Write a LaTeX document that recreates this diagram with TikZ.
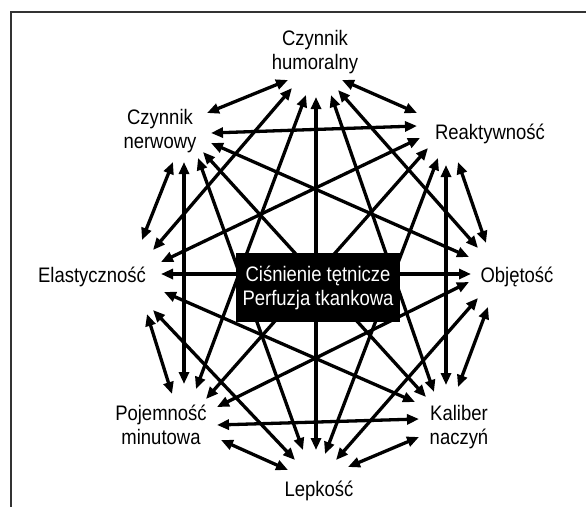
\documentclass[tikz,border=0pt]{standalone}
\usepackage{fontspec}
\setmainfont{Liberation Sans}[FakeStretch=0.88]
\usetikzlibrary{arrows.meta}
\begin{document}
\begin{tikzpicture}[x=1pt,y=-1pt,
  lbl/.style={font=\fontsize{21}{24}\selectfont, align=center, inner sep=0pt},
  biarrow/.style={line width=3.3pt, {Triangle[length=12pt,width=10pt]}-{Triangle[length=12pt,width=10pt]}},
  frameline/.style={line width=1.6pt, black!80},
  centerbox/.style={fill=black, text=white, font=\fontsize{21}{24}\selectfont, align=center,
    minimum width=164pt, minimum height=69pt, inner sep=0pt}]
\useasboundingbox (0,0) rectangle (586,507);
\fill[white] (0,0) rectangle (586,507);
% frame (only top and left edges are visible)
\draw[frameline] (586,12) -- (11,12) -- (11,507);
% outer nodes
\node[lbl] (H) at (315,52) {Czynnik\\humoralny};
\node[lbl] (N) at (160,131) {Czynnik\\nerwowy};
\node[lbl] (R) at (490,134) {Reaktywność};
\node[lbl] (E) at (92,277) {Elastyczność};
\node[lbl] (O) at (517,277) {Objętość};
\node[lbl] (P) at (161,425) {Pojemność\\minutowa};
\node[lbl] (K) at (459,427) {Kaliber\\naczyń};
\node[lbl] (L) at (319,491) {Lepkość};
% connectors (all pairs)
\draw[biarrow] ([shift={(-27,28)}]H.center) -- ([shift={(47,-18)}]N.center);
\draw[biarrow] ([shift={(27,28)}]H.center) -- ([shift={(-73,-21)}]R.center);
\draw[biarrow] ([shift={(-23,36)}]H.center) -- ([shift={(61,-27)}]E.center);
\draw[biarrow] ([shift={(-9,43)}]H.center) -- ([shift={(35,-36)}]P.center);
\draw[biarrow] ([shift={(1,45)}]H.center) -- ([shift={(-3,-41)}]L.center);
\draw[biarrow] ([shift={(16,43)}]H.center) -- ([shift={(-25,-35)}]K.center);
\draw[biarrow] ([shift={(23,38)}]H.center) -- ([shift={(-39,-29)}]O.center);
\draw[biarrow] ([shift={(51,2)}]N.center) -- ([shift={(-73,-8)}]R.center);
\draw[biarrow] ([shift={(51,12)}]N.center) -- ([shift={(-48,-20)}]O.center);
\draw[biarrow] ([shift={(43,21)}]N.center) -- ([shift={(-33,-30)}]K.center);
\draw[biarrow] ([shift={(38,27)}]N.center) -- ([shift={(-16,-41)}]L.center);
\draw[biarrow] ([shift={(24,31)}]N.center) -- ([shift={(23,-41)}]P.center);
\draw[biarrow] ([shift={(13,31)}]N.center) -- ([shift={(50,-37)}]E.center);
\draw[biarrow] ([shift={(-70,4)}]R.center) -- ([shift={(69,-15)}]E.center);
\draw[biarrow] ([shift={(-62,14)}]R.center) -- ([shift={(45,-26)}]P.center);
\draw[biarrow] ([shift={(-52,24)}]R.center) -- ([shift={(6,-37)}]L.center);
\draw[biarrow] ([shift={(-44,31)}]R.center) -- ([shift={(-13,-42)}]K.center);
\draw[biarrow] ([shift={(-32,28)}]R.center) -- ([shift={(-31,-34)}]O.center);
\draw[biarrow] ([shift={(69,-3)}]E.center) -- ([shift={(-46,-3)}]O.center);
\draw[biarrow] ([shift={(72,15)}]E.center) -- ([shift={(-44,-25)}]K.center);
\draw[biarrow] ([shift={(61,33)}]E.center) -- ([shift={(-24,-31)}]L.center);
\draw[biarrow] ([shift={(55,37)}]E.center) -- ([shift={(11,-31)}]P.center);
\draw[biarrow] ([shift={(-48,5)}]O.center) -- ([shift={(56,-18)}]P.center);
\draw[biarrow] ([shift={(-39,21)}]O.center) -- ([shift={(17,-31)}]L.center);
\draw[biarrow] ([shift={(-29,30)}]O.center) -- ([shift={(-1,-40)}]K.center);
\draw[biarrow] ([shift={(56,0)}]P.center) -- ([shift={(-40,-8)}]K.center);
\draw[biarrow] ([shift={(60,15)}]P.center) -- ([shift={(-31,-21)}]L.center);
\draw[biarrow] ([shift={(-40,10)}]K.center) -- ([shift={(29,-24)}]L.center);
% central box on top
\node[centerbox] (C) at (318,287.5) {Ciśnienie tętnicze\\Perfuzja tkankowa};
\end{tikzpicture}
\end{document}
